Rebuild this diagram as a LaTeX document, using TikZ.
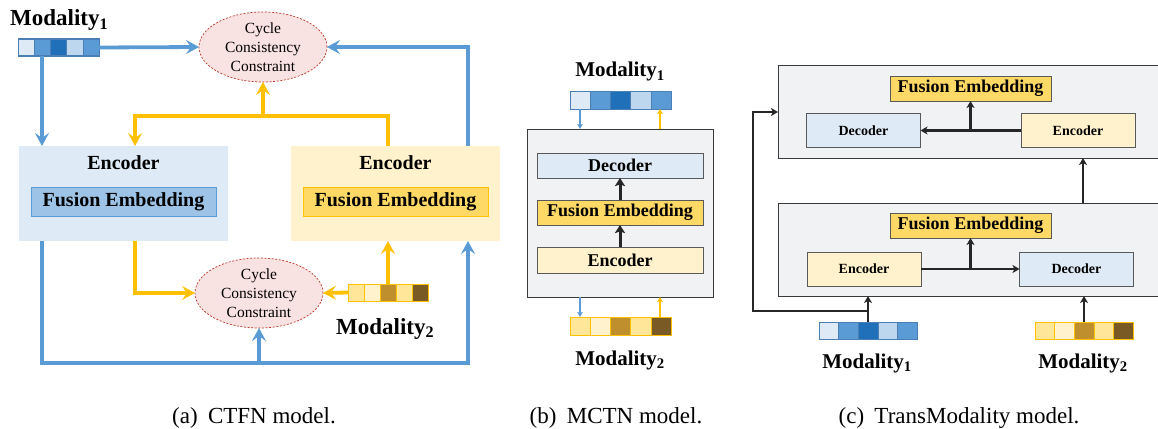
\documentclass[tikz,border=0pt]{standalone}
\usepackage{fontspec}
\setmainfont{Liberation Serif}
\usetikzlibrary{arrows.meta,shapes.geometric,calc}

\definecolor{lblue}{HTML}{DEEBF7}
\definecolor{mblue}{HTML}{5B9BD5}
\definecolor{dblue}{HTML}{1F70B8}
\definecolor{pblue}{HTML}{BDD7EE}
\definecolor{fblue}{HTML}{9DC3E6}
\definecolor{sblue}{HTML}{4A7FB5}
\definecolor{lyel}{HTML}{FFF2CC}
\definecolor{myel}{HTML}{FFE699}
\definecolor{gyel}{HTML}{FFD966}
\definecolor{oran}{HTML}{FFC000}
\definecolor{bron}{HTML}{BF8F2E}
\definecolor{dbron}{HTML}{7A5A24}
\definecolor{pinkf}{HTML}{F9E2E2}
\definecolor{dred}{HTML}{C0392B}
\definecolor{pgray}{HTML}{F1F2F4}
\definecolor{bgray}{HTML}{3A3A3A}
\definecolor{ibord}{HTML}{595959}

% a row of five coloured cells: name, x, y, cell width, cell height, border, colours
\newcommand\colorstrip[7]{%
  \node[minimum width=5*#4, minimum height=#5, inner sep=0, outer sep=0] (#1) at (#2,#3) {};
  \foreach \clr [count=\i] in {#7} {
    \node[fill=\clr, draw=#6, line width=0.6pt, minimum width=#4, minimum height=#5,
          inner sep=0, outer sep=0, anchor=west] at ($(#1.west)+({(\i-1)*#4},0)$) {};
  }
  \draw[#6, line width=1pt] (#1.south west) rectangle (#1.north east);
}

\tikzset{
  boxa/.style={inner sep=0, outer sep=0, minimum width=209, minimum height=95},
  fusa/.style={inner sep=0, outer sep=0, minimum width=185, minimum height=29, line width=0.8pt,
               font=\fontsize{20}{24}\selectfont\bfseries},
  ccc/.style={ellipse, fill=pinkf, draw=dred, dash pattern=on 2pt off 1.6pt, line width=0.7pt,
              minimum width=128, minimum height=68, inner sep=0, outer sep=0, align=center,
              font=\fontsize{15.5}{19.3}\selectfont},
  thick arrow/.style={line width=3.8pt, -{Stealth[length=13pt,width=14pt,inset=5pt]}},
  bline/.style={thick arrow, draw=mblue},
  oline/.style={thick arrow, draw=oran},
  modlabel/.style={inner sep=0, font=\fontsize{23}{27}\selectfont\bfseries},
  modlabelsm/.style={inner sep=0, font=\fontsize{21}{25}\selectfont\bfseries},
  graybox/.style={fill=pgray, draw=bgray, line width=1pt, inner sep=0, outer sep=0},
  innerb/.style={draw=ibord, line width=0.9pt, inner sep=0, outer sep=0,
                 font=\fontsize{18}{22}\selectfont\bfseries},
  innerc/.style={draw=ibord, line width=0.9pt, inner sep=0, outer sep=0,
                 minimum width=114, minimum height=34, font=\fontsize{14}{17}\selectfont\bfseries},
  karrow/.style={line width=3pt, draw=black!85, -{Stealth[length=8pt,width=10pt,inset=1.5pt]}},
  kc/.style={line width=2.3pt, draw=black!85, -{Stealth[length=7pt,width=8pt,inset=2pt]}},
  smallb/.style={line width=1.5pt, draw=mblue, -{Stealth[length=5pt,width=5.5pt,inset=1pt]}},
  smallo/.style={line width=1.5pt, draw=oran, -{Stealth[length=5pt,width=5.5pt,inset=1pt]}},
  caption/.style={inner sep=0, anchor=base, font=\fontsize{23}{27}\selectfont},
}

\begin{document}
\begin{tikzpicture}[x=1pt, y=-1pt]
\useasboundingbox (0,0) rectangle (1158,428);

% ---------------- (a) CTFN ----------------
\node[modlabel, anchor=base west] (m1a) at (10,26) {Modality\textsubscript{1}};
\colorstrip{s1}{58.5}{47.5}{16.2}{17}{sblue}{lblue,mblue,dblue,pblue,mblue}

\node[ccc] (e1) at (263,47) {Cycle\\Consistency\\Constraint};
\node[ccc] (e2) at (259,293) {Cycle\\Consistency\\Constraint};

\node[boxa, fill=lblue] (lbox) at (123.5,193.5) {};
\node[boxa, fill=lyel] (rbox) at (395.5,193.5) {};
\node[inner sep=0, font=\fontsize{20}{24}\selectfont\bfseries] (lenc) at (123.5,163) {Encoder};
\node[inner sep=0, font=\fontsize{20}{24}\selectfont\bfseries] (renc) at (395.5,163) {Encoder};
\node[fusa, fill=fblue, draw=mblue] (lfus) at (123.5,201.5) {Fusion Embedding};
\node[fusa, fill=gyel, draw=oran] (rfus) at (395.5,201.5) {Fusion Embedding};

\colorstrip{s2}{388}{292.5}{16}{17}{oran}{myel,lyel,bron,myel,dbron}
\node[modlabel, anchor=base west] (m2a) at (336,334) {Modality\textsubscript{2}};

\coordinate (xa) at (42,0);
\coordinate (xb) at (468,0);
\coordinate (xc) at (388,0);
\coordinate (xd) at (135,0);
\coordinate (ya) at (263,116);
\coordinate (yb) at (259,363);

% blue paths
\draw[bline] (s1.east) -- (e1.west);
\draw[bline] (s1.south -| xa) -- (lbox.north -| xa);
\draw[bline] (rbox.north -| xb) |- (e1.east);
\draw[bline] (lbox.south -| xa) |- (yb) -| (rbox.south -| xb);
\draw[bline] (yb) -- (e2.south);
% yellow paths
\draw[oline] (rbox.north -| xc) |- (ya) -| (lbox.north -| xd);
\draw[oline] (ya) -- (e1.south);
\draw[oline] (lbox.south -| xd) |- (e2.west);
\draw[oline] (s2.west) -- (e2.east);
\draw[oline] (s2.north -| xc) -- (rbox.south -| xc);

% ---------------- (b) MCTN ----------------
\node[modlabelsm, anchor=base] (m1b) at (620,77) {Modality\textsubscript{1}};
\colorstrip{sb1}{620.5}{100}{20.2}{18}{sblue}{lblue,mblue,dblue,pblue,mblue}
\node[graybox, minimum width=186, minimum height=168] (gb) at (620,213) {};
\node[innerb, fill=lblue, minimum width=166, minimum height=25] (decb) at (620,165.5) {Decoder};
\node[innerb, fill=gyel, minimum width=166, minimum height=25] (fusb) at (620,212.5) {Fusion Embedding};
\node[innerb, fill=lyel, minimum width=166, minimum height=26] (encb) at (620,260) {Encoder};
\draw[karrow] (encb.north) -- (fusb.south);
\draw[karrow] (fusb.north) -- (decb.south);
\colorstrip{sb2}{620.5}{326}{20.2}{18}{oran}{myel,lyel,bron,myel,dbron}
\node[modlabelsm, anchor=base] (m2b) at (620,365) {Modality\textsubscript{2}};

\coordinate (xe) at (580,0);
\coordinate (xf) at (660,0);
\draw[smallb] (sb1.south -| xe) -- (gb.north -| xe);
\draw[smallo] (gb.north -| xf) -- (sb1.south -| xf);
\draw[smallb] (gb.south -| xe) -- (sb2.north -| xe);
\draw[smallo] (sb2.north -| xf) -- (gb.south -| xf);

% ---------------- (c) TransModality ----------------
\node[graybox, minimum width=384, minimum height=93] (topg) at (970,111.5) {};
\node[graybox, minimum width=384, minimum height=93] (botg) at (970,249.5) {};

\node[innerb, fill=gyel, minimum width=161, minimum height=25] (fust) at (970.5,88.5) {Fusion Embedding};
\node[innerc, fill=lblue] (dect) at (863.5,130.5) {Decoder};
\node[innerc, fill=lyel] (enct) at (1078,130.5) {Encoder};
\draw[kc] (enct.west) -- (dect.east);
\draw[kc] (fust.south |- enct.west) -- (fust.south);

\node[innerb, fill=gyel, minimum width=161, minimum height=25] (fusc) at (970.5,225.5) {Fusion Embedding};
\node[innerc, fill=lyel] (encc) at (864,269) {Encoder};
\node[innerc, fill=lblue] (decc) at (1076.5,269) {Decoder};
\draw[kc] (encc.east) -- (decc.west);
\draw[kc] (fusc.south |- encc.east) -- (fusc.south);

\coordinate (xg) at (1083,0);
\draw[kc] (botg.north -| xg) -- (topg.south -| xg);

\colorstrip{sc1}{868}{330.5}{19.6}{17}{sblue}{lblue,mblue,dblue,pblue,mblue}
\colorstrip{sc2}{1084}{330.5}{19.6}{17}{oran}{myel,lyel,bron,myel,dbron}
\node[modlabelsm, anchor=base] (m1c) at (867,368) {Modality\textsubscript{1}};
\node[modlabelsm, anchor=base] (m2c) at (1083,368) {Modality\textsubscript{2}};

\coordinate (ch) at (868,311);
\coordinate (cl) at (753,112);
\draw[kc] (sc1.north) -- (botg.south -| sc1.north);
\draw[kc] (ch) -| (cl) -- (cl -| topg.west);
\draw[kc] (sc2.north) -- (botg.south -| sc2.north);

% ---------------- captions ----------------
\node[caption] (capa) at (254,423) {(a)\hspace{0.45em}CTFN model.};
\node[caption] (capb) at (616,423) {(b)\hspace{0.45em}MCTN model.};
\node[caption] (capc) at (959,423) {(c)\hspace{0.45em}TransModality model.};
\end{tikzpicture}
\end{document}
